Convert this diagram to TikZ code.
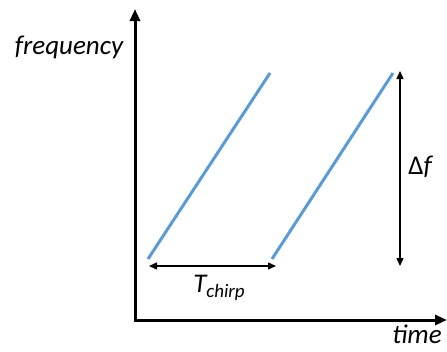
\documentclass[tikz,border=0pt]{standalone}
\usepackage{fontspec}
\setmainfont{Carlito}
\usetikzlibrary{arrows.meta,positioning,calc}
\definecolor{Chirp}{HTML}{5B9BD5}
\definecolor{Ink}{HTML}{000000}

\begin{document}
\begin{tikzpicture}[x=1pt, y=-1pt, every node/.style={font=\fontsize{27}{32}\selectfont\itshape}]
      \useasboundingbox (0,0) rectangle (447,351);
      % axes
      \coordinate (origin) at (135,320);
      \coordinate (ytop) at (135,9);
      \coordinate (xend) at (447,320);
      \draw[-{Triangle[length=12pt, width=10pt]}, line width=3pt, Ink] ($(origin)+(0,1.5)$) -- (ytop);
      \draw[-{Triangle[length=12pt, width=10pt]}, line width=3pt, Ink] ($(origin)+(-1.5,0)$) -- (xend);
      
      % chirps
      \coordinate (c1a) at (148,259);
      \coordinate (c1b) at (270,73);
      \coordinate (c2a) at (272,259);
      \coordinate (c2b) at (393,73);
      \draw[line width=3pt, Chirp] (c1a) -- (c1b);
      \draw[line width=3pt, Chirp] (c2a) -- (c2b);
      
      % measures
      \coordinate (t1) at (149,266);
      \coordinate (t2) at (276,266);
      \coordinate (f1) at (400,71);
      \coordinate (f2) at (400,266);
      \draw[{Triangle[length=8pt, width=7pt]}-{Triangle[length=8pt, width=7pt]}, line width=1.3pt, Ink] (t1) -- (t2);
      \draw[{Triangle[length=8pt, width=7pt]}-{Triangle[length=8pt, width=7pt]}, line width=1.3pt, Ink] (f1) -- (f2);
      
      \node (freq) at (69,47) {frequency};
      \node[inner sep=0pt] (time) at (417,334) {time};
      \node (tchirp) at (219,288) {T\raisebox{-0.35ex}{\fontsize{19}{22}\selectfont chirp}};
      \node (df) at (420,167) {{\upshape Δ}f};
    \end{tikzpicture}
\end{document}
